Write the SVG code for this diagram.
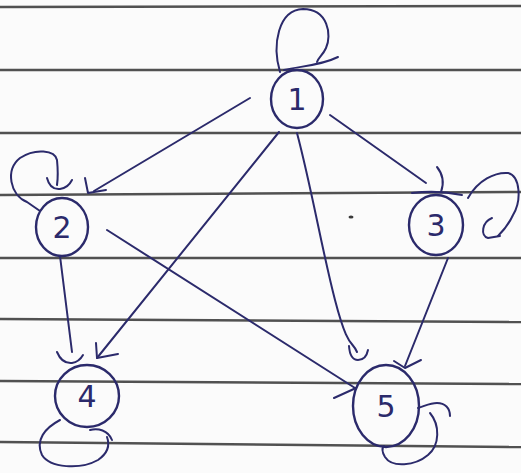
<svg xmlns="http://www.w3.org/2000/svg" width="521" height="473" viewBox="0 0 521 473">
<style>
.paper{stroke:#333333;stroke-width:2.5;fill:none;opacity:0.85}
.ink{stroke:#2b2a6b;stroke-width:2;fill:none;stroke-linecap:round;stroke-linejoin:round}
.node{stroke:#2b2a6b;stroke-width:2.4;fill:none}
.lbl{font-family:"DejaVu Sans",sans-serif;font-size:30px;fill:#2b2a6b;text-anchor:middle}
</style>
<rect width="521" height="473" fill="#fbfbfb"/>
<g id="paper-lines">
<path class="paper" d="M0 7 L521 6"/>
<path class="paper" d="M0 70 L521 70"/>
<path class="paper" d="M0 133 L521 133"/>
<path class="paper" d="M0 195 L521 192"/>
<path class="paper" d="M0 258 L521 258"/>
<path class="paper" d="M0 319 L521 322"/>
<path class="paper" d="M0 381 L521 384"/>
<path class="paper" d="M0 442 L521 447"/>
</g>
<g id="connectors">
<!-- 1 -> 2 -->
<path class="ink" d="M250 98 L94 191"/>
<path class="ink" d="M85 178 L88 193 L106 190"/>
<!-- 1 -> 3 -->
<path class="ink" d="M330 115 L426 183"/>
<path class="ink" d="M437 167 Q446 178 441 192"/>
<path class="ink" d="M412 193 Q438 190 462 195"/>
<!-- 1 -> 4 -->
<path class="ink" d="M279 132 L97 358"/>
<path class="ink" d="M96 343 L97 358 L118 354"/>
<!-- 1 -> 5 -->
<path class="ink" d="M297 133 C312 190 322 250 335 300 S352 340 357 352"/>
<path class="ink" d="M349 346 Q350 360 358 360 Q366 360 368 350"/>
<!-- 2 -> 4 -->
<path class="ink" d="M60 256 L72 352"/>
<path class="ink" d="M57 352 Q62 364 72 363 Q79 362 83 355"/>
<!-- 2 -> 5 -->
<path class="ink" d="M107 230 L355 388"/>
<path class="ink" d="M334 398 L356 388"/>
<!-- 3 -> 5 -->
<path class="ink" d="M448 258 L405 366"/>
<path class="ink" d="M394 361 L405 368 L421 360"/>
<!-- self loops -->
<path class="ink" d="M280 72 C272 45 278 10 303 9 C328 9 332 35 326 48 C323 55 318 58 317 62"/>
<path class="ink" d="M284 70 C300 66 320 66 338 57"/>
<path class="ink" d="M40 211 L27 202 C10 195 5 170 20 158 C35 148 55 150 57 160 C58 170 58 178 57 185"/>
<path class="ink" d="M47 178 Q50 190 60 189 Q68 188 72 180"/>
<path class="ink" d="M468 198 C478 180 495 172 508 173 C520 176 522 200 513 215 C508 226 502 232 498 236"/>
<path class="ink" d="M492 218 C482 222 480 236 488 238 L500 236"/>
<path class="ink" d="M60 420 C45 428 35 440 42 455 C50 468 80 470 98 460 C108 453 110 445 107 437"/>
<path class="ink" d="M90 430 C98 428 108 430 112 440"/>
<path class="ink" d="M418 408 C425 406 430 403 437 403 C445 403 450 408 450 416"/>
<path class="ink" d="M430 413 C440 425 440 445 428 455 C415 466 392 468 385 457 C382 452 382 448 384 446"/>
<ellipse cx="351" cy="217" rx="2.5" ry="1.5" fill="#3a3a3a"/>
</g>
<g id="node-1">
<ellipse class="node" cx="297" cy="99" rx="26" ry="29"/>
<text class="lbl" x="297" y="110">1</text>
</g>
<g id="node-2">
<ellipse class="node" cx="62" cy="227" rx="26" ry="29"/>
<text class="lbl" x="62" y="238">2</text>
</g>
<g id="node-3">
<ellipse class="node" cx="436" cy="225" rx="27" ry="30"/>
<text class="lbl" x="436" y="236">3</text>
</g>
<g id="node-4">
<ellipse class="node" cx="87" cy="396" rx="32" ry="31"/>
<text class="lbl" x="87" y="407">4</text>
</g>
<g id="node-5">
<ellipse class="node" cx="386" cy="406" rx="33" ry="41"/>
<text class="lbl" x="386" y="417">5</text>
</g>
</svg>
